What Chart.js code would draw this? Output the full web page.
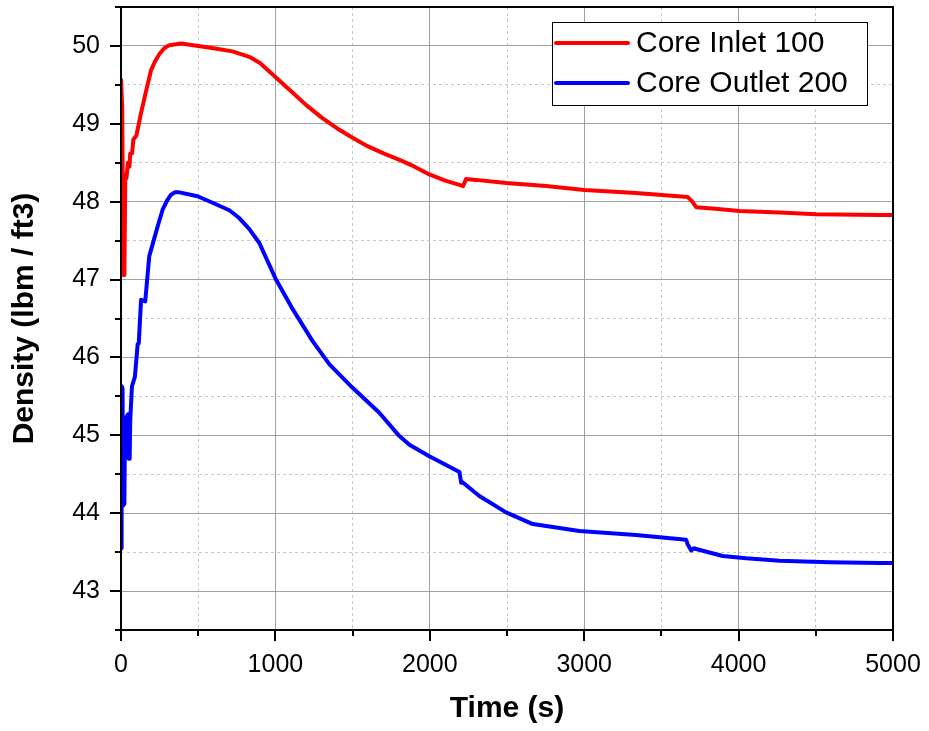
<!DOCTYPE html>
<html>
<head>
<meta charset="utf-8">
<script src="https://cdn.jsdelivr.net/npm/chart.js@4/dist/chart.umd.min.js"></script>
<style>
html,body{margin:0;padding:0;background:#fff;}
canvas{display:block;}
</style>
</head>
<body>
<canvas id="c" width="929" height="731"></canvas>
<script>
// ---- data ----
const seriesNames = ["Core Inlet 100", "Core Outlet 200"];
const xTitle = "Time (s)";
const yTitle = "Density (lbm / ft3)";

const inletTime = [0, 8, 15, 22, 28, 35, 45, 55, 60, 72, 80, 100, 130, 160, 195, 220, 250, 280, 313, 390, 500, 600, 722, 831, 900, 1000, 1100, 1200, 1300, 1400, 1500, 1600, 1700, 1800, 1880, 1997, 2100, 2203, 2215, 2235, 2300, 2494, 2753, 3001, 3336, 3671, 3700, 3725, 3850, 4006, 4265, 4503, 4913, 5000];
const inletDensity = [49.58, 49.2, 47.06, 47.06, 48.35, 48.3, 48.5, 48.45, 48.62, 48.62, 48.8, 48.85, 49.14, 49.4, 49.69, 49.8, 49.9, 49.97, 50.01, 50.03, 50.0, 49.97, 49.93, 49.86, 49.78, 49.6, 49.42, 49.24, 49.08, 48.94, 48.82, 48.71, 48.62, 48.54, 48.47, 48.35, 48.27, 48.21, 48.2, 48.29, 48.28, 48.24, 48.2, 48.15, 48.11, 48.06, 48.0, 47.93, 47.91, 47.88, 47.86, 47.84, 47.83, 47.83];

const outletTime = [0, 4, 10, 14, 22, 26, 40, 46, 50, 56, 60, 71, 90, 108, 115, 130, 157, 183, 200, 240, 270, 300, 324, 350, 378, 496, 600, 702, 766, 830, 896, 1004, 1112, 1241, 1350, 1500, 1673, 1803, 1868, 1997, 2192, 2203, 2210, 2321, 2494, 2667, 2969, 3336, 3660, 3670, 3693, 3710, 3725, 3897, 4049, 4265, 4589, 4913, 5000];
const outletDensity = [43.55, 45.63, 45.6, 44.1, 44.12, 45.2, 45.25, 45.27, 44.7, 44.7, 45.2, 45.63, 45.75, 46.17, 46.18, 46.74, 46.72, 47.3, 47.42, 47.7, 47.9, 48.02, 48.09, 48.12, 48.12, 48.07, 47.98, 47.89, 47.79, 47.65, 47.47, 47.0, 46.62, 46.21, 45.91, 45.61, 45.29, 44.99, 44.88, 44.73, 44.53, 44.39, 44.4, 44.22, 44.01, 43.86, 43.77, 43.72, 43.66, 43.6, 43.52, 43.55, 43.54, 43.45, 43.42, 43.39, 43.37, 43.36, 43.36];

const xMin = 0, xMax = 5000, xStep = 500, xLabelStep = 1000;
const yMin = 42.5, yMax = 50.5, yStep = 0.5, yLabelStep = 1;

// ---- build chart ----
const FONT = "Arial, 'Liberation Sans', Helvetica, sans-serif";
const toPts = (xs, ys) => xs.map((x, i) => ({x: x, y: ys[i]}));
const isMajor = (v, step) => Math.abs(v / step - Math.round(v / step)) < 1e-6;
const noPad = s => { s.paddingLeft = 0; s.paddingRight = 0; s.paddingTop = 0; s.paddingBottom = 0; };

const frameAndTicks = {
  id: 'frameAndTicks',
  afterDraw(chart) {
    const ctx = chart.ctx;
    const a = chart.chartArea;
    const xs = chart.scales.x, ys = chart.scales.y;
    ctx.save();
    ctx.strokeStyle = '#000';
    ctx.lineWidth = 2;
    ys.ticks.forEach(t => {
      const py = Math.round(ys.getPixelForValue(t.value));
      const len = isMajor(t.value, yLabelStep) ? 11 : 6;
      ctx.beginPath(); ctx.moveTo(a.left - len, py); ctx.lineTo(a.left, py); ctx.stroke();
    });
    xs.ticks.forEach(t => {
      const px = Math.round(xs.getPixelForValue(t.value));
      const len = isMajor(t.value, xLabelStep) ? 11 : 6;
      ctx.beginPath(); ctx.moveTo(px, a.bottom); ctx.lineTo(px, a.bottom + len); ctx.stroke();
    });
    ctx.strokeRect(a.left, a.top, a.right - a.left, a.bottom - a.top);
    // legend
    const lx = 552, ly = 22, lw = 315, lh = 83;
    ctx.fillStyle = '#fff';
    ctx.fillRect(lx, ly, lw, lh);
    ctx.lineWidth = 1;
    ctx.strokeStyle = '#000';
    ctx.strokeRect(lx + 0.5, ly + 0.5, lw, lh);
    const rows = [43, 83];
    chart.data.datasets.forEach((ds, i) => {
      ctx.strokeStyle = ds.borderColor;
      ctx.lineWidth = 4;
      ctx.lineCap = 'round';
      ctx.beginPath(); ctx.moveTo(556, rows[i]); ctx.lineTo(628, rows[i]); ctx.stroke();
      ctx.fillStyle = '#000';
      ctx.font = '30px ' + FONT;
      ctx.textBaseline = 'middle';
      ctx.textAlign = 'left';
      ctx.fillText(ds.label, 636, rows[i] + 1);
    });
    ctx.restore();
  }
};

new Chart(document.getElementById('c'), {
  type: 'line',
  data: {
    datasets: [
      {label: seriesNames[0], data: toPts(inletTime, inletDensity), borderColor: '#ff0000', borderWidth: 4, pointRadius: 0, tension: 0, fill: false, borderJoinStyle: 'round'},
      {label: seriesNames[1], data: toPts(outletTime, outletDensity), borderColor: '#0000ff', borderWidth: 4, pointRadius: 0, tension: 0, fill: false, borderJoinStyle: 'round'}
    ]
  },
  options: {
    responsive: false,
    animation: false,
    devicePixelRatio: 1,
    layout: {padding: {top: 7, right: 36, left: 0, bottom: 0}},
    plugins: {legend: {display: false}, tooltip: {enabled: false}},
    scales: {
      x: {
        type: 'linear', min: xMin, max: xMax,
        afterFit(s) { s.height = 101; noPad(s); },
        ticks: {
          stepSize: xStep, autoSkip: false, maxRotation: 0, padding: 20,
          color: '#000', font: {family: FONT, size: 25},
          callback: v => isMajor(v, xLabelStep) ? String(v) : ''
        },
        grid: {
          drawTicks: false,
          color: c => (c.tick && isMajor(c.tick.value, xLabelStep)) ? '#a0a0a0' : '#c8c8c8',
          lineWidth: 1
        },
        border: {display: false, dash: c => (c.tick && !isMajor(c.tick.value, xLabelStep)) ? [3, 3] : []},
        title: {display: true, text: xTitle, color: '#000', font: {family: FONT, size: 30, weight: 'bold'}, padding: {top: 0, bottom: 4}}
      },
      y: {
        type: 'linear', min: yMin, max: yMax,
        afterFit(s) { s.width = 121; noPad(s); },
        ticks: {
          stepSize: yStep, autoSkip: false, padding: 21,
          color: '#000', font: {family: FONT, size: 25},
          callback: v => isMajor(v, yLabelStep) ? String(v) : ''
        },
        grid: {
          drawTicks: false,
          color: c => (c.tick && isMajor(c.tick.value, yLabelStep)) ? '#a0a0a0' : '#c8c8c8',
          lineWidth: 1
        },
        border: {display: false, dash: c => (c.tick && !isMajor(c.tick.value, yLabelStep)) ? [3, 3] : []},
        title: {display: true, text: yTitle, color: '#000', font: {family: FONT, size: 30, weight: 'bold'}, padding: {top: 7, bottom: 0}}
      }
    }
  },
  plugins: [frameAndTicks]
});
</script>
</body>
</html>
